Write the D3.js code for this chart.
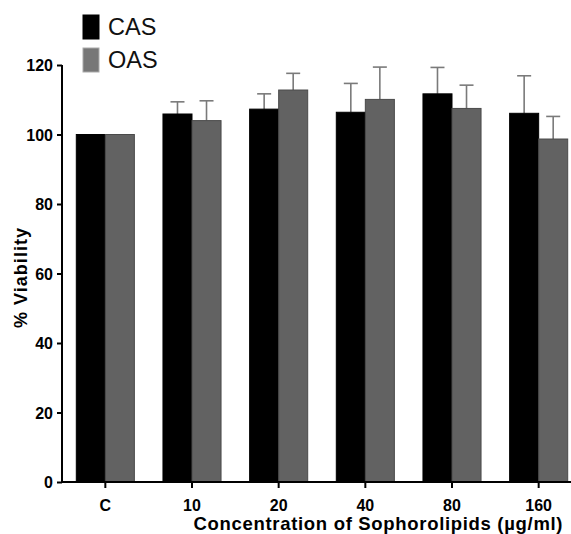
<!DOCTYPE html>
<html>
<head>
<meta charset="UTF-8">
<script src="https://d3js.org/d3.v7.min.js"></script>
<style>
  body { margin: 0; background: #fff; }
  text { font-family: "Liberation Sans", Arial, sans-serif; }
</style>
</head>
<body>
<svg width="571" height="534"></svg>
<script>
// data
var groups = ["C", "10", "20", "40", "80", "160"];
var series = ["CAS", "OAS"];
var casMean = [100, 105.9, 107.3, 106.4, 111.7, 106.1];
var casSd   = [0, 3.5, 4.4, 8.3, 7.6, 10.8];
var oasMean = [100, 104.0, 112.8, 110.1, 107.5, 98.7];
var oasSd   = [0, 5.7, 4.8, 9.3, 6.7, 6.5];
var yTicks  = [0, 20, 40, 60, 80, 100, 120];
var colors  = ["#000000", "#626262"];

var svg = d3.select("svg");

var x = d3.scaleBand().domain(groups).range([62, 582]).paddingInner(0.33).paddingOuter(0.165);
var xs = d3.scaleBand().domain(series).range([0, x.bandwidth()]);
var y = d3.scaleLinear().domain([0, 120]).range([482, 65]);

var rows = [];
groups.forEach(function (g, i) {
  rows.push({ g: g, s: "CAS", v: casMean[i], sd: casSd[i] });
  rows.push({ g: g, s: "OAS", v: oasMean[i], sd: oasSd[i] });
});

// error bars (upper half only, drawn behind bars)
var eb = svg.append("g").attr("stroke", "#7a7a7a").attr("stroke-width", 1.6)
  .selectAll("g").data(rows.filter(function (d) { return d.sd > 0; })).enter().append("g");
eb.append("line")
  .attr("x1", function (d) { return x(d.g) + xs(d.s) + xs.bandwidth() / 2; })
  .attr("x2", function (d) { return x(d.g) + xs(d.s) + xs.bandwidth() / 2; })
  .attr("y1", function (d) { return y(d.v); })
  .attr("y2", function (d) { return y(d.v + d.sd); });
eb.append("line")
  .attr("x1", function (d) { return x(d.g) + xs(d.s) + xs.bandwidth() / 2 - 7; })
  .attr("x2", function (d) { return x(d.g) + xs(d.s) + xs.bandwidth() / 2 + 7; })
  .attr("y1", function (d) { return y(d.v + d.sd); })
  .attr("y2", function (d) { return y(d.v + d.sd); });

svg.append("g").selectAll("rect").data(rows).enter().append("rect")
  .attr("x", function (d) { return x(d.g) + xs(d.s); })
  .attr("y", function (d) { return y(d.v); })
  .attr("width", xs.bandwidth())
  .attr("height", function (d) { return y(0) - y(d.v); })
  .attr("fill", function (d) { return d.s == "CAS" ? colors[0] : colors[1]; })
  .attr("stroke", function (d) { return d.s == "CAS" ? "#000" : "#4a4a4a"; })
  .attr("stroke-width", 1);

// axes
var yAxis = svg.append("g")
  .attr("transform", "translate(62,0)")
  .call(d3.axisLeft(y).tickValues(yTicks).tickSize(5).tickPadding(4));
var xAxis = svg.append("g")
  .attr("transform", "translate(0,482)")
  .call(d3.axisBottom(x).tickSize(6).tickPadding(12));
[yAxis, xAxis].forEach(function (a) {
  a.attr("font-size", null).attr("font-family", null);
  a.selectAll("path, line").attr("stroke", "#000").attr("stroke-width", 2);
  a.selectAll("text")
    .style("font-family", "'Liberation Sans', Arial, sans-serif")
    .style("font-weight", "bold").style("font-size", "16px").attr("fill", "#000");
});
yAxis.select(".domain").attr("d", "M0,65V482");
xAxis.select(".domain").attr("d", "M62,0H582");
yAxis.selectAll("text").attr("dy", "0.36em");

svg.append("text")
  .attr("transform", "translate(27,278) rotate(-90)")
  .attr("text-anchor", "middle")
  .attr("textLength", 100)
  .style("font-weight", "bold").style("font-size", "18px")
  .text("% Viability");

svg.append("text")
  .attr("x", 378).attr("y", 530)
  .attr("text-anchor", "middle")
  .attr("textLength", 369)
  .style("font-weight", "bold").style("font-size", "18.5px")
  .text("Concentration of Sophorolipids (µg/ml)");

// legend
var lg = svg.append("g").selectAll("g").data(series).enter().append("g")
  .attr("transform", function (d, i) { return "translate(83," + (15 + i * 33) + ")"; });
lg.append("rect").attr("width", 16).attr("height", 24)
  .attr("fill", function (d, i) { return i == 0 ? "#000" : "#777"; })
  .attr("stroke", function (d, i) { return i == 0 ? "#000" : "#aaa"; });
lg.append("text").attr("x", 25).attr("y", 20)
  .style("font-size", "23.5px").attr("fill", "#111")
  .text(function (d) { return d; });
</script>
</body>
</html>
